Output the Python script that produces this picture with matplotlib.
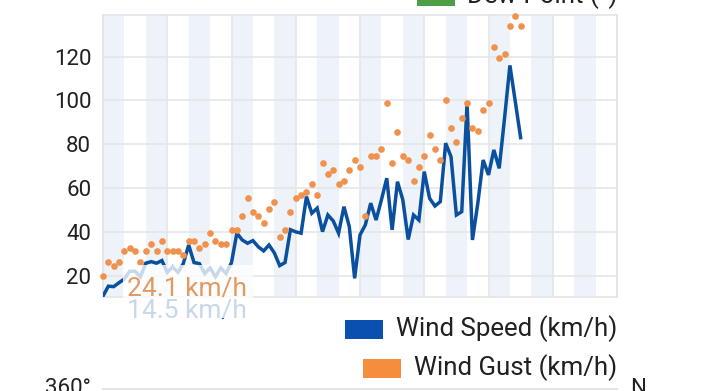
import numpy as np
import matplotlib
matplotlib.use('Agg')
import matplotlib.pyplot as plt
from matplotlib.patches import Rectangle

plt.rcParams['font.family'] = ['Roboto', 'DejaVu Sans']

# 3-hourly wind readings (km/h)
hours = list(range(0, 237, 3))
wind_speed = [10.7, 15.2, 15.0, 16.8, 18.5, 22, 22, 19.5, 25.7, 26.4, 25.7, 26.9, 21.5, 24, 21.5, 25.5,
              34, 26, 25.5, 21, 23.5, 19.5, 23.5, 21, 26, 39.4, 36.3, 34.8, 36, 33.2, 31.3, 34,
              30.4, 24.6, 26, 41, 40, 39.4, 56.1, 48.5, 50.8, 40.1, 47.7, 45, 39.4, 51.5, 42.4, 18.8,
              38.6, 43.2, 53.1, 45.4, 54.6, 64.5, 40.9, 62.9, 54.6, 36.5, 47.7, 45.4, 67.5, 55.3, 51.8,
              53.8, 80.5, 74.3, 47.7, 49.2, 98.7, 36.3, 53, 72.8, 66, 77.4, 69, 92, 116, 99.5, 83]
wind_gust = [20, 26.3, 24.5, 26.3, 31.3, 32.6, 31.3, 26.3, 31.3, 34.5, 31.3, 35.8, 31.3, 31.3, 31.3, 29.5,
             35.8, 35.8, 32.6, 34.5, 39.5, 35.8, 34.5, 34.5, 40.8, 40.8, 47.3, 55.5, 49.1, 47.3, 44.1, 50.4,
             53.7, 37.7, 40.8, 49.1, 55.5, 56.8, 58.2, 61.8, 56.8, 71.4, 66.4, 68.3, 61.8, 63.2, 68.3, 72.8,
             69.6, 47.3, 74.6, 74.6, 77.8, 98.8, 71.4, 85.6, 74.6, 72.8, 63.2, 69.6, 74.6, 84.2, 77.8, 72.8,
             100.2, 87.4, 81.0, 92.0, 98.8, 87.4, 86.0, 95.6, 98.8, 124.4, 119.4, 121.2, 134.0, 138.6, 134.0]
y_ticks = [20, 40, 60, 80, 100, 120]
night_starts = list(range(0, 288, 24))
legend_labels = ['Dew Point (°)', 'Wind Speed (km/h)', 'Wind Gust (km/h)']
legend_colors = ['#4e9e45', '#0a50b0', '#f68d3e']
hover_gust = '24.1 km/h'
hover_speed = '14.5 km/h'

W, H = 720, 391
fig = plt.figure(figsize=(W / 100, H / 100), dpi=100)

def fx(x):
    return x / W

def fy(y):
    return 1 - y / H

ax = fig.add_axes([fx(103), fy(296.7), fx(514), 281.7 / H])
ax.set_xlim(0, 288)
ax.set_ylim(10.4, 139)

for s in night_starts:
    ax.axvspan(s, s + 12, color='#edf3f9', lw=0, zorder=0)

ax.set_xticks(range(0, 289, 36))
ax.set_yticks(y_ticks)
ax.grid(True, color='#e4e6e9', lw=1.2, zorder=1)
ax.tick_params(axis='x', length=0, labelbottom=False)
ax.tick_params(axis='y', length=0, pad=8.5, labelsize=16, labelcolor='#212121')
for sp in ax.spines.values():
    sp.set_color('#e2e4e7')
    sp.set_linewidth(1.2)

ax.plot(hours, wind_speed, color='#0b4f9f', lw=2.5, zorder=3, solid_joinstyle='miter')
ax.plot(hours, wind_gust, 'o', color='#f0924d', ms=4.8, mew=0, zorder=4, clip_on=False)

# hover readout, partly covered by a translucent box
fig.text(fx(127), fy(311), hover_speed, fontsize=19, color='#0b4f9f', va='center', ha='left')
fig.patches.append(Rectangle((fx(123), fy(318)), fx(130), 53 / H, transform=fig.transFigure,
                             facecolor='white', alpha=0.78, lw=0, zorder=5))
fig.text(fx(127), fy(289), hover_gust, fontsize=19, color='#e39a62', va='center', ha='left', zorder=6)

# legend rows, right aligned
rows = [(-4, 417), (329, 345), (368, 363)]
for (yc, px0), lab, col in zip(rows, legend_labels, legend_colors):
    fig.patches.append(Rectangle((fx(px0), fy(yc + 9.5)), fx(38), 19 / H, transform=fig.transFigure,
                                 facecolor=col, lw=0))
    fig.text(fx(617), fy(yc), lab, fontsize=18.6, color='#212121', va='center', ha='right')

# top of the next chart
fig.add_artist(plt.Line2D([fx(103), fx(617)], [fy(389), fy(389)], color='#e2e4e7', lw=1.5))
fig.text(fx(91), fy(389), '360°', fontsize=16, color='#212121', va='center', ha='right')
fig.text(fx(630), fy(389), 'N', fontsize=16, color='#212121', va='center', ha='left')

plt.savefig('out.png', dpi=100)
